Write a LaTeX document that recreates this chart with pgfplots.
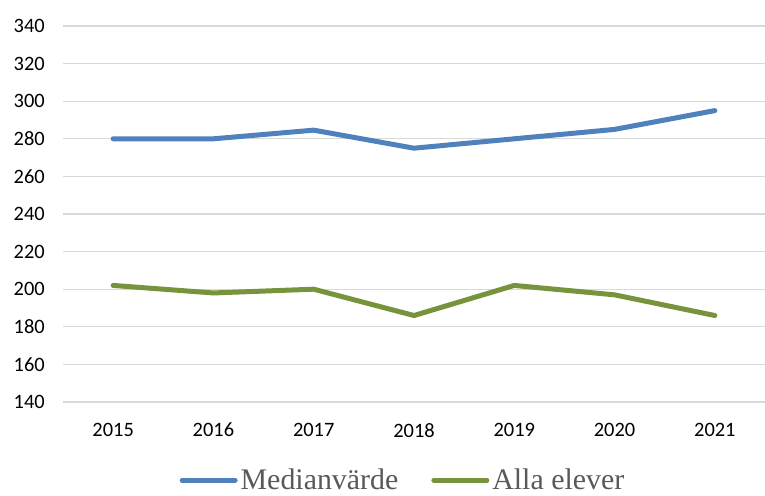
\documentclass[border=0pt]{standalone}
\usepackage{fontspec}
\setmainfont{Carlito}
\newfontfamily\legfont{Liberation Serif}
\usepackage{pgfplots}
\pgfplotsset{compat=1.18}
\definecolor{blueline}{HTML}{4F81BD}
\definecolor{greenline}{HTML}{77933C}
\definecolor{gridc}{HTML}{D9D9D9}
\definecolor{legtext}{HTML}{595959}
\begin{document}
\begin{tikzpicture}
\useasboundingbox (0,0) rectangle (765bp,496bp);
\begin{axis}[
  at={(63bp,94bp)}, anchor=south west,
  scale only axis, width=702bp, height=376bp,
  xmin=-0.5, xmax=6.5, ymin=140, ymax=340,
  xtick={0,1,2,3,4,5,6},
  xticklabels={2015,2016,2017,2018,2019,2020,2021},
  ytick={140,160,...,340},
  axis line style={draw=none},
  major tick length=0pt,
  ymajorgrids, grid style={gridc, line width=1.3bp},
  /pgf/number format/assume math mode=true,
  /pgf/number format/1000 sep={},
  tick label style={font=\fontsize{20.5}{20.5}\selectfont, text=black},
  yticklabel style={anchor=east, inner sep=0pt, xshift=-18bp},
  xticklabel style={anchor=north, inner sep=0pt, yshift=-21bp},
  clip=false,
  legend columns=2,
  legend style={at={(0.485,-0.208)}, anchor=center, draw=none, fill=none,
    font=\fontsize{30}{30}\legfont, text=legtext,
    /tikz/every even column/.append style={column sep=30bp},
    nodes={inner sep=3bp}},
  legend image code/.code={\draw[#1, line cap=round] (0bp,0bp) -- (53bp,0bp);},
]
\addplot[blueline, line width=5bp, line cap=round, line join=round] coordinates {
(0,280) (1,280) (2,284.6) (3,275) (4,280) (5,285) (6,295)};
\addlegendentry{Medianvärde}
\addplot[greenline, line width=5bp, line cap=round, line join=round] coordinates {
(0,202) (1,198) (2,200) (3,186) (4,202) (5,197) (6,186)};
\addlegendentry{Alla elever}
\end{axis}
\end{tikzpicture}
\end{document}
